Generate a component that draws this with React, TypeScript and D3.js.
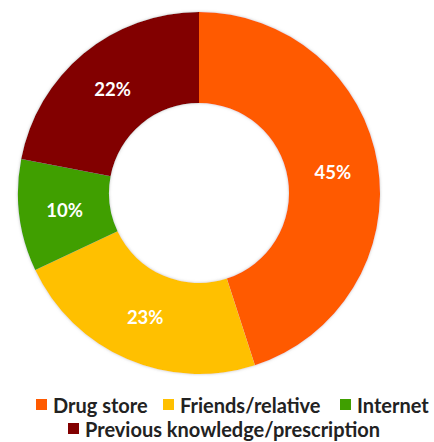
import React from "react";
import * as d3 from "d3";

const categories = ["Drug store", "Friends/relative", "Internet", "Previous knowledge/prescription"];
const values = [45, 23, 10, 22];
const colors = ["#FF5A00", "#FFC000", "#3F9F00", "#820000"];

const W = 434;
const H = 442;
const cx = 199;
const cy = 193;
const R = 181;
const r = 90;

const legendRows = [
  [
    { i: 0, x: 36 },
    { i: 1, x: 163 },
    { i: 2, x: 340 },
  ],
  [{ i: 3, x: 68 }],
];
const legendY = [405, 429];

export default function App() {
  const pie = d3.pie<number>().sort(null).value((d) => d)(values);
  const arc = d3.arc<d3.PieArcDatum<number>>().innerRadius(r).outerRadius(R);
  const font = "Lato, 'Open Sans', sans-serif";
  return (
    <svg width={W} height={H} style={{ position: "absolute", left: 0, top: 0, background: "#fff" }}>
      <defs>
        <filter id="sh" x="-10%" y="-10%" width="120%" height="120%">
          <feDropShadow dx="0" dy="0" stdDeviation="1.5" floodColor="#999" floodOpacity="0.6" />
        </filter>
      </defs>
      <g transform={`translate(${cx},${cy})`}>
        <g filter="url(#sh)">
          {pie.map((p, k) => (
            <path key={k} d={arc(p) || ""} fill={colors[k]} />
          ))}
        </g>
        {pie.map((p, k) => {
          const [x, y] = arc.centroid(p);
          return (
            <text
              key={k}
              x={x}
              y={y}
              textAnchor="middle"
              dominantBaseline="central"
              fill="#fff"
              fontFamily={font}
              fontWeight="bold"
              fontSize={18.5}
            >
              {`${values[k]}%`}
            </text>
          );
        })}
      </g>
      {legendRows.map((row, ri) =>
        row.map(({ i, x }) => (
          <g key={`${ri}-${i}`} transform={`translate(${x},${legendY[ri]})`}>
            <rect x={0} y={-6} width={11} height={11} fill={colors[i]} />
            <text
              x={17}
              y={0}
              dominantBaseline="central"
              fill="#222"
              fontFamily={font}
              fontWeight="bold"
              fontSize={20}
            >
              {categories[i]}
            </text>
          </g>
        ))
      )}
    </svg>
  );
}
